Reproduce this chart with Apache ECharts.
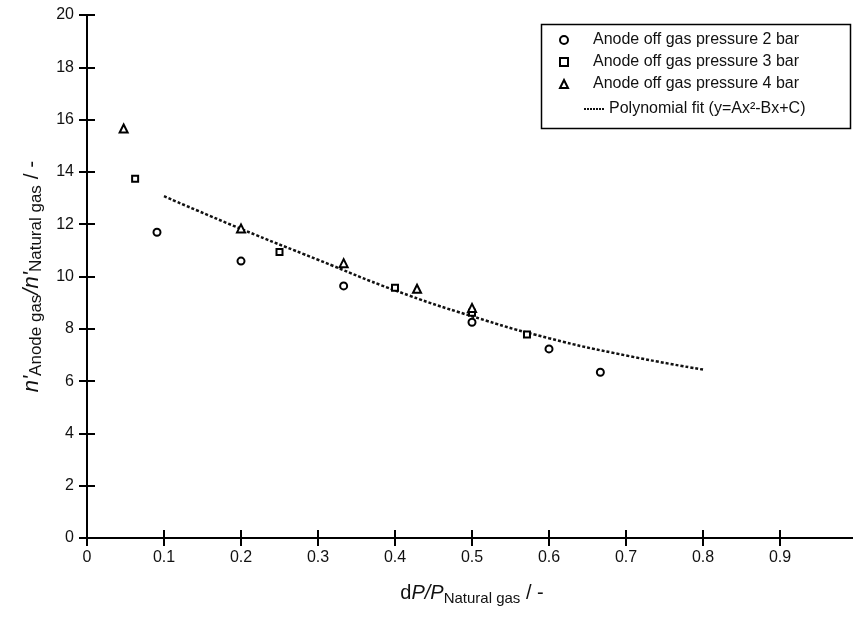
<!DOCTYPE html>
<html>
<head>
<meta charset="utf-8">
<script src="https://cdn.jsdelivr.net/npm/echarts@6/dist/echarts.min.js"></script>
<style>
html,body{margin:0;padding:0;background:#fff;}
#chart{width:853px;height:617px;}
</style>
</head>
<body>
<div id="chart"></div>
<script>
// ---- data ----
const xTickLabels = ['0','0.1','0.2','0.3','0.4','0.5','0.6','0.7','0.8','0.9','1'];
const yTickLabels = ['0','2','4','6','8','10','12','14','16','18','20'];

const p2x = [0.0909, 0.2, 0.3333, 0.5, 0.6, 0.6667];
const p2y = [11.69, 10.59, 9.64, 8.25, 7.23, 6.34];

const p3x = [0.0625, 0.25, 0.4, 0.5, 0.5714];
const p3y = [13.74, 10.94, 9.57, 8.61, 7.78];

const p4x = [0.0476, 0.2, 0.3333, 0.4286, 0.5];
const p4y = [15.66, 11.84, 10.51, 9.53, 8.80];

const fitX = [0.1, 0.2, 0.3, 0.4, 0.5, 0.6, 0.7, 0.8];
const fitY = [13.07, 11.82, 10.64, 9.47, 8.48, 7.64, 6.98, 6.44];

const names = [
  'Anode off gas pressure 2 bar',
  'Anode off gas pressure 3 bar',
  'Anode off gas pressure 4 bar',
  'Polynomial fit (y=Ax²-Bx+C)'
];

const zip = (xs, ys) => xs.map((x, i) => [x, ys[i]]);
const FONT = '"Liberation Sans", Arial, sans-serif';

const chart = echarts.init(document.getElementById('chart'), null, {renderer: 'canvas'});

const axisLine = {show: true, lineStyle: {color: '#000', width: 2}};
const axisTick = {show: true, inside: true, length: 8, lineStyle: {color: '#000', width: 2}};

const scatterBase = {
  type: 'scatter',
  itemStyle: {color: '#fff', borderColor: '#000', borderWidth: 2, opacity: 1},
  emphasis: {disabled: true},
  z: 5
};

chart.setOption({
  animation: false,
  backgroundColor: '#fff',
  grid: {left: 87, top: 15, width: 770, height: 523, containLabel: false, outerBoundsMode: 'none'},
  xAxis: [{
    type: 'value', min: 0, max: 1, interval: 0.1, position: 'bottom',
    axisLine, axisTick, splitLine: {show: false},
    axisLabel: {
      color: '#111', fontFamily: FONT, fontSize: 16, margin: 12,
      showMaxLabel: true,
      formatter: v => xTickLabels[Math.round(v * 10)]
    },
    name: '{n|d}{it|P/P}{sub|Natural gas}{n| / -}',
    nameLocation: 'middle', nameGap: 31,
    nameTextStyle: {
      rich: {
        n: {fontFamily: FONT, fontSize: 20, color: '#111', verticalAlign: 'top', lineHeight: 22},
        it: {fontFamily: FONT, fontSize: 20, fontStyle: 'italic', color: '#111', verticalAlign: 'top', lineHeight: 22},
        sub: {fontFamily: FONT, fontSize: 15, color: '#111', verticalAlign: 'bottom', lineHeight: 15, padding: [20, 0, 0, 0]}
      }
    }
  }, {
    type: 'value', min: 0, max: 1, interval: 0.1, position: 'top',
    axisLine, axisTick, axisLabel: {show: false}, splitLine: {show: false}
  }],
  yAxis: [{
    type: 'value', min: 0, max: 20, interval: 2, position: 'left',
    axisLine, axisTick, splitLine: {show: false},
    axisLabel: {
      color: '#111', fontFamily: FONT, fontSize: 16, margin: 13,
      formatter: v => yTickLabels[Math.round(v / 2)]
    },
    name: "{it|n'}{sub|Anode gas}{it|/n'}{sub|Natural gas}{n| / -}",
    nameLocation: 'middle', nameRotate: 90, nameGap: 41,
    nameTextStyle: {
      rich: {
        n: {fontFamily: FONT, fontSize: 21, color: '#111', verticalAlign: 'top', lineHeight: 24},
        it: {fontFamily: FONT, fontSize: 22, fontStyle: 'italic', color: '#111', verticalAlign: 'top', lineHeight: 24},
        sub: {fontFamily: FONT, fontSize: 17, color: '#111', verticalAlign: 'bottom', lineHeight: 17, padding: [18, 0, 0, 0]}
      }
    }
  }, {
    type: 'value', min: 0, max: 20, interval: 2, position: 'right',
    axisLine, axisTick, axisLabel: {show: false}, splitLine: {show: false}
  }],
  legend: [{
    data: names.slice(0, 3),
    orient: 'vertical', left: 559, top: 32, padding: 0,
    itemWidth: 8, itemHeight: 8, itemGap: 6,
    textStyle: {fontFamily: FONT, fontSize: 16, color: '#111', lineHeight: 16, padding: [0, 0, 0, 20]},
    selectedMode: false
  }, {
    data: [names[3]],
    orient: 'vertical', left: 583, top: 101, padding: 0,
    itemWidth: 20, itemHeight: 8, itemGap: 6,
    itemStyle: {opacity: 0, color: 'transparent', borderColor: 'transparent'},
    lineStyle: {color: '#111', width: 2, type: [2, 1]},
    textStyle: {fontFamily: FONT, fontSize: 16, color: '#111', lineHeight: 16},
    selectedMode: false
  }],
  graphic: [{
    type: 'rect', left: 539, top: 22, z: 10,
    shape: {width: 309, height: 104},
    style: {fill: 'none', stroke: '#000', lineWidth: 1.5}
  }],
  series: [
    Object.assign({}, scatterBase, {name: names[0], symbol: 'circle', symbolSize: 7, data: zip(p2x, p2y)}),
    Object.assign({}, scatterBase, {name: names[1], symbol: 'rect', symbolSize: 6, data: zip(p3x, p3y)}),
    Object.assign({}, scatterBase, {name: names[2], symbol: 'triangle', symbolSize: 8, data: zip(p4x, p4y)}),
    {
      name: names[3], type: 'line', smooth: true, symbol: 'none', showSymbol: false,
      lineStyle: {color: '#111', width: 2.5, type: [3, 2]},
      itemStyle: {color: '#111'},
      data: zip(fitX, fitY), z: 4
    }
  ]
});
</script>
</body>
</html>
